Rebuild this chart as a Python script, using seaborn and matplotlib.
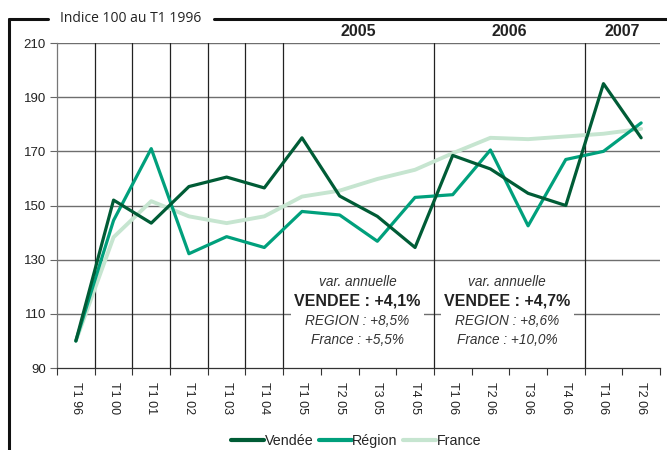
import matplotlib
matplotlib.use("Agg")
import matplotlib.pyplot as plt
import pandas as pd
import seaborn as sns
from matplotlib.lines import Line2D
from matplotlib.patches import Rectangle

# Trimestres (l'étiquette "T1 06" revient deux fois dans l'original)
TRIMESTRES = ["T1 96", "T1 00", "T1 01", "T1 02", "T1 03", "T1 04", "T1 05",
              "T2 05", "T3 05", "T4 05", "T1 06", "T2 06", "T3 06", "T4 06",
              "T1 06", "T2 06"]
VENDEE = [100, 152, 143.5, 157, 160.5, 156.5, 175, 153.5, 146, 134.5,
          168.5, 163.5, 154.5, 150, 195, 175]
REGION = [100, 144.5, 171, 132.2, 138.5, 134.5, 147.8, 146.5, 136.8, 153,
          154, 170.5, 142.5, 167, 170, 180.5]
FRANCE = [100, 138.3, 151.6, 146, 143.5, 146, 153.3, 155.5, 159.8, 163.2,
          169.3, 175, 174.5, 175.5, 176.5, 178.3]

ANNEES = ["2005", "2006", "2007"]
ANNEES_POS = [7.5, 11.5, 14.5]
SEPARATIONS = [0.5, 1.5, 2.5, 3.5, 4.5, 5.5, 9.5, 13.5]

ENCADRES = [
    {"x": 7.47, "vendee": "VENDEE : +4,1%", "region": "REGION : +8,5%",
     "france": "France : +5,5%", "x0": 5.72, "x1": 9.24},
    {"x": 11.45, "vendee": "VENDEE : +4,7%", "region": "REGION : +8,6%",
     "france": "France : +10,0%", "x0": 9.69, "x1": 13.23},
]

PALETTE = {"Vendée": "#005c36", "Région": "#00a07c", "France": "#c6e5d0"}
LARGEURS = {"Vendée": 2.3, "Région": 2.3, "France": 2.8}

pos = list(range(len(TRIMESTRES)))
df = pd.concat([
    pd.DataFrame({"pos": pos, "indice": VENDEE, "serie": "Vendée"}),
    pd.DataFrame({"pos": pos, "indice": REGION, "serie": "Région"}),
    pd.DataFrame({"pos": pos, "indice": FRANCE, "serie": "France"}),
])

sns.set_style("white")
plt.rcParams["font.family"] = ["Liberation Sans", "DejaVu Sans"]

fig = plt.figure(figsize=(6.67, 4.5), dpi=100)
ax = fig.add_axes([0.0855, 0.1822, 0.904, 0.7222])

for serie in ["France", "Région", "Vendée"]:
    sns.lineplot(data=df[df["serie"] == serie], x="pos", y="indice",
                 color=PALETTE[serie], lw=LARGEURS[serie], ax=ax,
                 zorder=5 if serie != "France" else 4)

ax.set_xlim(-0.5, len(TRIMESTRES) - 0.5)
ax.set_ylim(90, 210)
ax.set_yticks(range(90, 211, 20))
ax.set_xticks(pos)
ax.set_xticklabels(TRIMESTRES, rotation=-90, fontsize=9, color="#222")
ax.set_xticks([p - 0.5 for p in pos] + [len(pos) - 0.5], minor=True)
ax.tick_params(axis="x", which="major", length=0, pad=10)
ax.tick_params(axis="x", which="minor", length=5, width=0.8, color="#333",
               direction="out", bottom=True)
ax.tick_params(axis="y", length=5, width=0.8, color="#666", left=True,
               labelsize=9.5, labelcolor="#222", pad=3)
ax.set_xlabel("")
ax.set_ylabel("")

for v in range(110, 211, 20):
    ax.axhline(v, color="#6e6e6e", lw=1.0, zorder=1)
for s in SEPARATIONS:
    ax.axvline(s, color="#222", lw=0.9, zorder=1)

for side in ["top", "right"]:
    ax.spines[side].set_visible(False)
ax.spines["left"].set_color("#777")
ax.spines["left"].set_linewidth(0.9)
ax.spines["bottom"].set_color("#333")
ax.spines["bottom"].set_linewidth(0.9)

for a, xa in zip(ANNEES, ANNEES_POS):
    ax.text(xa, 211.5, a, ha="center", va="bottom", fontsize=11.5,
            fontweight="bold", color="#222", clip_on=False)

for e in ENCADRES:
    ax.add_patch(Rectangle((e["x0"], 95.5), e["x1"] - e["x0"], 32,
                           facecolor="white", edgecolor="none", zorder=2))
    ax.text(e["x"], 121.7, "var. annuelle", ha="center", va="center",
            fontsize=9.8, style="italic", color="#333", zorder=3)
    ax.text(e["x"], 114.8, e["vendee"], ha="center", va="center",
            fontsize=11.5, fontweight="bold", color="#222", zorder=3)
    ax.text(e["x"], 107.2, e["region"], ha="center", va="center",
            fontsize=9.8, style="italic", color="#333", zorder=3)
    ax.text(e["x"], 100.5, e["france"], ha="center", va="center",
            fontsize=9.8, style="italic", color="#333", zorder=3)

handles = [Line2D([], [], color=PALETTE[s], lw=3) for s in ["Vendée", "Région", "France"]]
fig.legend(handles, ["Vendée", "Région", "France"], loc="center",
           bbox_to_anchor=(0.534, 0.02), ncol=3, frameon=False, fontsize=10.3,
           handlelength=2.3, handletextpad=0.05, columnspacing=0.35)

# cadre autour du graphique
yf = 1 - 19 / 450
xf = 9 / 667
fig.add_artist(Line2D([xf, xf], [yf, 0], color="#111", lw=2.2))
fig.add_artist(Line2D([xf, 48 / 667], [yf, yf], color="#111", lw=2.2))
fig.add_artist(Line2D([214 / 667, 1], [yf, yf], color="#111", lw=2.2))
fig.text(60 / 667, yf, "Indice 100 au T1 1996", ha="left", va="center",
         fontsize=10.0, family=["Open Sans", "DejaVu Sans"], color="#222")

fig.savefig("out.png", dpi=100)
